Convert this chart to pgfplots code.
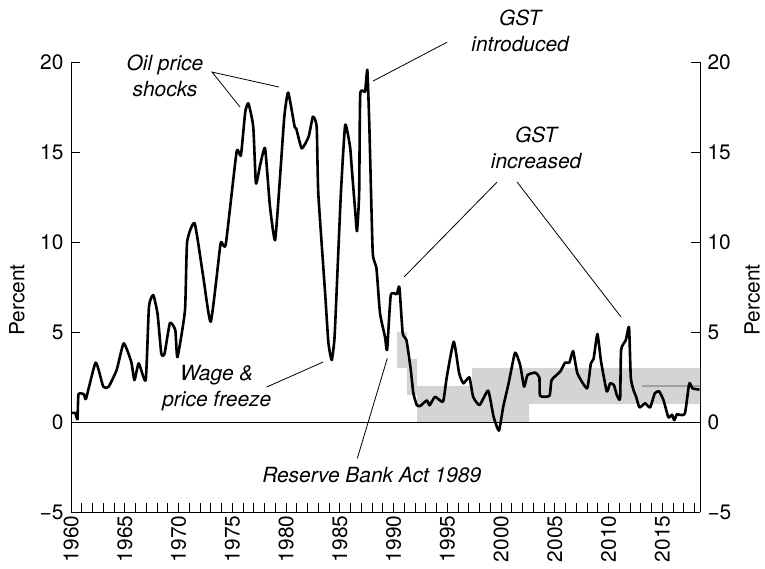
\documentclass[border=0pt]{standalone}
\usepackage{fontspec}
\setmainfont{TeX Gyre Heros}
\usepackage{pgfplots}
\pgfplotsset{compat=1.18}
\definecolor{band}{RGB}{211,212,214}
\definecolor{midline}{RGB}{160,161,163}
\newcommand{\lbl}{\fontsize{21}{26}\selectfont}
\begin{document}
\begin{tikzpicture}
\pgfplotsset{
  base/.style={
    width=629bp, height=450bp, scale only axis,
    xmin=1960, xmax=2018.5, ymin=-5, ymax=20,
    tick align=inside, major tick length=9bp, minor tick length=9bp,
    tick style={black, line width=0.8bp},
    axis line style={line width=0.8bp},
    tick label style={font=\lbl},
    /pgf/number format/assume math mode=true,
    /pgf/number format/1000 sep={},
    ytick={-5,0,5,10,15,20},
    yticklabels={−5,0,5,10,15,20},
    ylabel=Percent,
  }
}
% right-hand axis
\begin{axis}[base, axis x line=none, axis y line*=right,
    yticklabel style={xshift=4bp},
    every axis y label/.style={at={(axis description cs:1.083,0.471)}, rotate=90, anchor=center, font=\lbl}]
\addplot[draw=none] coordinates {(1960,0)};
\end{axis}
% main axis
\begin{axis}[base, name=ax, axis x line*=bottom, axis y line*=left, clip=false,
    xtick={1960,1965,...,2015}, minor xtick={1960,...,2018},
    xticklabel style={rotate=90, anchor=east},
    yticklabel style={xshift=-4bp},
    every axis y label/.style={at={(axis description cs:-0.086,0.471)}, rotate=90, anchor=center, font=\lbl}]

% inflation target bands
\addplot[fill=band, draw=none] coordinates {
  (1990.33,3) (1991.26,3) (1991.26,1.5) (1992.19,1.5) (1992.19,0) (2002.6,0)
  (2002.6,1) (2018.5,1) (2018.5,3) (1997.3,3) (1997.3,2) (1992.19,2)
  (1992.19,3.5) (1991.26,3.5) (1991.26,5) (1990.33,5)} -- cycle;
\addplot[midline, line width=1.8bp] coordinates {(2013.1,2) (2018.5,2)};

\draw[line width=0.8bp] (axis cs:1960,0) -- (axis cs:2018.5,0);

% annual CPI inflation
\addplot[black, line width=2.6bp, line join=round, smooth, tension=0.3] coordinates {
(1960.0,0.5) (1960.4,0.5) (1960.6,0.15) (1960.7,1.54) (1961.2,1.54) (1961.4,1.3)
(1962.3,3.3) (1963.0,1.96) (1963.5,1.96) (1964.25,2.9) (1964.9,4.37) (1965.6,3.35)
(1965.9,2.33) (1966.3,3.26) (1966.95,2.33) (1967.25,6.4) (1967.65,7.05) (1968.05,6.0)
(1968.4,3.8) (1968.7,3.8) (1969.2,5.5) (1969.7,5.1) (1969.9,3.6) (1970.6,6.2)
(1970.8,10.0) (1971.5,11.04) (1972.3,8.07) (1973.0,5.57) (1973.86,9.7) (1974.0,10.0)
(1974.4,9.9) (1975.4,15.0) (1975.8,14.8) (1976.2,17.2) (1976.5,17.7) (1976.95,16.4)
(1977.2,13.26) (1977.6,14.3) (1978.05,15.2) (1978.5,12.0) (1978.98,10.1) (1979.44,13.6)
(1979.84,16.96) (1980.2,18.3) (1980.8,16.4) (1980.95,16.3) (1981.46,15.2) (1982.1,15.85)
(1982.5,16.96) (1982.85,16.4) (1983.0,12.7) (1983.63,7.2) (1983.94,4.4) (1984.25,3.44)
(1984.5,4.6) (1984.7,7.2) (1985.1,12.7) (1985.5,16.5) (1985.95,15.3) (1986.1,14.2)
(1986.42,11.8) (1986.6,10.6) (1986.8,12.7) (1986.9,18.2) (1987.35,18.35) (1987.56,19.56)
(1987.75,16.4) (1988.06,9.46) (1988.4,8.6) (1988.74,6.04) (1989.2,4.74) (1989.4,4.0)
(1989.74,7.05) (1990.3,7.1) (1990.54,7.5) (1990.85,4.93) (1991.2,4.55) (1991.6,2.9)
(1991.84,1.6) (1992.16,0.94) (1992.47,0.89) (1993.1,1.2) (1993.35,0.93) (1993.86,1.4)
(1994.6,1.13) (1994.95,2.5) (1995.6,4.46) (1996.1,2.7) (1996.5,2.15) (1997.05,2.48)
(1997.4,1.4) (1998.0,0.94) (1998.8,1.74) (1999.3,0.3) (1999.8,-0.48) (2000.2,0.85)
(2000.7,2.15) (2001.3,3.85) (2001.77,3.17) (2002.14,1.96) (2002.45,2.6) (2003.16,2.74)
(2003.56,2.48) (2003.63,1.46) (2004.5,1.46) (2004.7,2.33) (2005.5,2.8) (2005.95,3.3)
(2006.35,3.3) (2006.7,3.94) (2007.1,2.7) (2008.0,1.87) (2008.35,3.26) (2008.6,3.5)
(2008.96,4.89) (2009.3,3.35) (2009.83,1.7) (2010.14,2.15) (2010.5,2.05) (2010.76,1.5)
(2011.07,1.3) (2011.16,4.0) (2011.6,4.55) (2011.9,5.26) (2012.06,2.5) (2012.3,1.8)
(2012.56,1.4) (2012.87,0.81) (2013.4,1.04) (2013.86,0.81) (2014.3,1.6) (2014.7,1.7)
(2015.1,1.22) (2015.56,0.26) (2015.9,0.4) (2016.1,0.1) (2016.35,0.43) (2016.6,0.4)
(2017.1,0.48) (2017.5,2.15) (2017.8,1.87) (2018.45,1.8)};

% annotations
\begin{scope}[line width=0.8bp]
\draw (axis cs:1979.35,18.61) -- (axis cs:1973.12,19.44) -- (axis cs:1975.72,17.5);
\draw (axis cs:1988.09,18.94) -- (axis cs:1994.98,21.1);
\draw (axis cs:1990.98,8.06) -- (axis cs:1999.63,13.33);
\draw (axis cs:2001.49,13.33) -- (axis cs:2011.16,5.83);
\draw (axis cs:1978.19,1.94) -- (axis cs:1983.44,3.33);
\draw (axis cs:1986.63,-2.02) -- (axis cs:1989.42,3.54);
\end{scope}
\begin{scope}[every node/.style={font=\lbl\itshape, align=center, inner sep=0pt}]
\node at (axis cs:1968.74,19.25) {Oil price\\shocks};
\node at (axis cs:2001.77,21.72) {GST\\introduced};
\node at (axis cs:2003.26,15.25) {GST\\increased};
\node at (axis cs:1973.56,1.89) {Wage \&\\price freeze};
\node at (axis cs:1987.97,-2.94) {Reserve Bank Act 1989};
\end{scope}
\end{axis}
\pgfresetboundingbox
\path[use as bounding box] ([shift={(-71bp,-57bp)}]ax.south west) rectangle ([shift={(65bp,62bp)}]ax.north east);
\end{tikzpicture}
\end{document}
